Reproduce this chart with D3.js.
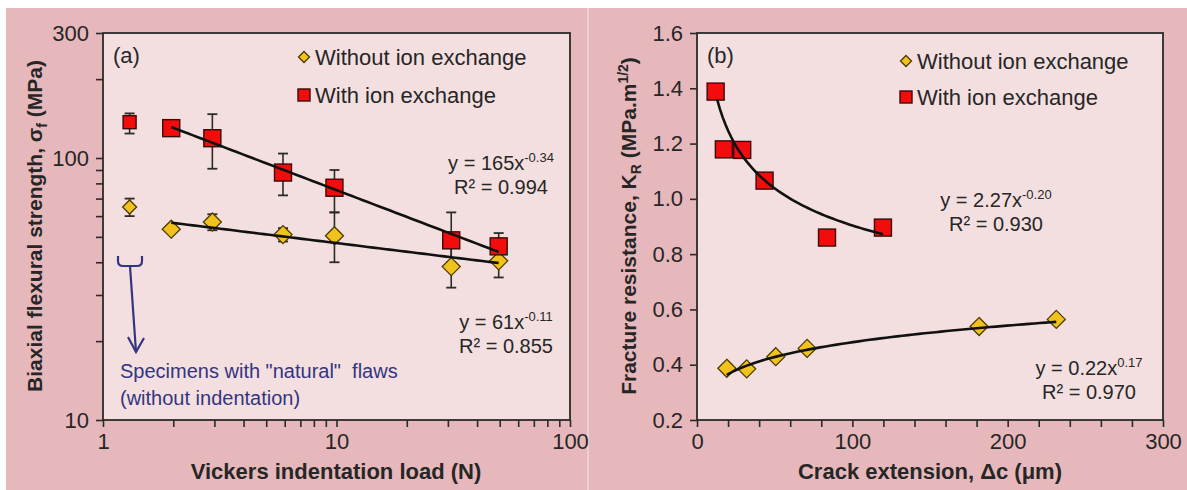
<!DOCTYPE html>
<html><head><meta charset="utf-8">
<script src="https://cdn.jsdelivr.net/npm/d3@7"></script>
<style>
body{margin:0;background:#fff;}
svg{display:block;}
text{font-family:"Liberation Sans",Arial,sans-serif;fill:#262626;}
</style>
</head><body>
<svg id="c" width="1187" height="490"></svg>
<script>
// ---------- data: panel (a) ----------
const loadsN = [1.96, 2.94, 5.9, 9.8, 31, 49.5];
const naturalLoad = 1.3;
const withoutStrength = [53.5, 57, 51, 50.5, 38.5, 40.5];
const withoutLo = [53.5, 53, 48, 40, 32, 35];
const withoutHi = [53.5, 61, 54, 62, 46, 46];
const withoutNatural = [65, 60, 70];      // value, low, high
const withStrength = [130, 119, 88, 77, 48.5, 46];
const withLo = [130, 91, 72, 62, 40, 42];
const withHi = [130, 147, 104, 90, 62, 51.7];
const withNatural = [137, 124, 148];      // value, low, high
const fitStrengthWith = [165, -0.34];
const fitStrengthWithout = [61, -0.11];
const aYTicks = [10,20,30,40,50,60,70,80,90,100,200,300];
const aYLabels = [10,100,300];
const aXTicks = [1,2,3,4,5,6,7,8,9,10,20,30,40,50,60,70,80,90,100];
const aXLabels = [1,10,100];

// ---------- data: panel (b) ----------
const crackWith = [12, 17.3, 29.1, 43.5, 83.7, 119.7];
const krWith = [1.388, 1.179, 1.177, 1.066, 0.860, 0.896];
const crackWithout = [19.2, 32.0, 50.7, 70.9, 181.6, 231.3];
const krWithout = [0.387, 0.385, 0.429, 0.459, 0.538, 0.564];
const fitKrWith = [2.27, -0.20];
const fitKrWithout = [0.22, 0.17];
const bXTicks = [0,20,40,60,80,100,120,140,160,180,200,220,240,260,280,300];
const bXLabels = [0,100,200,300];
const bYTicks = [0.2,0.4,0.6,0.8,1.0,1.2,1.4,1.6];

const legendLabels = ["Without ion exchange", "With ion exchange"];

// ---------- styles ----------
const OUTER = "#e7b8bb", INNER = "#f3dfdf", RED = "#f20c0c", REDSTROKE = "#3c0a0a",
      GOLD = "#f2c21c", GOLDSTROKE = "#4a3c00", NAVY = "#33357f";

const svg = d3.select("#c");
svg.append("rect").attr("x",6).attr("y",8).attr("width",581).attr("height",482).attr("fill",OUTER);
svg.append("rect").attr("x",589).attr("y",8).attr("width",598).attr("height",482).attr("fill",OUTER);
svg.append("rect").attr("x",587).attr("y",8).attr("width",2).attr("height",482).attr("fill","#efcfd1");

const diamond = (s) => `M0,${-s} L${s},0 L0,${s} L${-s},0Z`;

function panel(opt){
  const g = svg.append("g");
  const x = opt.x, y = opt.y;
  const [x0,x1] = x.range(), [y0,y1] = y.range();
  g.append("rect").attr("x",x0).attr("y",y1).attr("width",x1-x0).attr("height",y0-y1).attr("fill",INNER);

  const ax = g.append("g").attr("transform",`translate(0,${y0})`)
    .call(d3.axisBottom(x).tickValues(opt.xTicks).tickSize(7).tickPadding(6)
      .tickFormat(d => opt.xLabels.includes(d) ? opt.xFmt(d) : ""));
  const ay = g.append("g").attr("transform",`translate(${x0},0)`)
    .call(d3.axisLeft(y).tickValues(opt.yTicks).tickSize(7).tickPadding(7)
      .tickFormat(d => opt.yLabels.includes(d) ? opt.yFmt(d) : ""));
  [ax,ay].forEach(a=>{
    a.select(".domain").remove();
    a.selectAll("line").attr("stroke","#2a2a2a").attr("stroke-width",1.6);
    a.selectAll("text").attr("font-size",22).attr("fill","#2e2e2e")
      .style("font-family",'"Liberation Sans",Arial,sans-serif');
  });
  g.append("rect").attr("x",x0).attr("y",y1).attr("width",x1-x0).attr("height",y0-y1)
    .attr("fill","none").attr("stroke","#2a2a2a").attr("stroke-width",1.8);
  return g;
}

function errBars(g, x, y, xs, lo, hi){
  xs.forEach((xv,i)=>{
    if (lo[i] === hi[i]) return;
    const px = x(xv);
    g.append("line").attr("x1",px).attr("x2",px).attr("y1",y(lo[i])).attr("y2",y(hi[i]))
      .attr("stroke","#2b2b2b").attr("stroke-width",1.6);
    [lo[i],hi[i]].forEach(v=>g.append("line").attr("x1",px-5).attr("x2",px+5)
      .attr("y1",y(v)).attr("y2",y(v)).attr("stroke","#2b2b2b").attr("stroke-width",1.8));
  });
}
function squares(g, x, y, xs, ys, s){
  g.selectAll(null).data(xs).enter().append("rect")
    .attr("x",(d)=>x(d)-s/2).attr("y",(d,i)=>y(ys[i])-s/2).attr("width",s).attr("height",s)
    .attr("fill",RED).attr("stroke",REDSTROKE).attr("stroke-width",1.4);
}
function diamonds(g, x, y, xs, ys, s){
  g.selectAll(null).data(xs).enter().append("path")
    .attr("d",diamond(s)).attr("transform",(d,i)=>`translate(${x(d)},${y(ys[i])})`)
    .attr("fill",GOLD).attr("stroke",GOLDSTROKE).attr("stroke-width",1.3);
}
function fitLine(g, x, y, coef, xmin, xmax, logx){
  const n = 60, pts = [];
  for (let k=0;k<=n;k++){
    const xv = logx ? xmin*Math.pow(xmax/xmin,k/n) : xmin+(xmax-xmin)*k/n;
    pts.push([xv, coef[0]*Math.pow(xv,coef[1])]);
  }
  g.append("path").attr("d",d3.line().x(d=>x(d[0])).y(d=>y(d[1]))(pts))
    .attr("fill","none").attr("stroke","#111").attr("stroke-width",2.6);
}
function eqText(g, cx, by, coefText, expText, r2Text){
  const t = g.append("text").attr("x",cx).attr("y",by).attr("text-anchor","middle").attr("font-size",20);
  t.append("tspan").text("y = "+coefText+"x");
  t.append("tspan").attr("dy",-8).attr("font-size",13).text(expText);
  g.append("text").attr("x",cx).attr("y",by+24).attr("text-anchor","middle").attr("font-size",20)
    .text("R² = "+r2Text);
}
function legend(g, tx, by1, by2){
  g.append("path").attr("d",diamond(5.5)).attr("transform",`translate(${tx-11},${by1-8})`)
    .attr("fill",GOLD).attr("stroke",GOLDSTROKE).attr("stroke-width",1.3);
  g.append("text").attr("x",tx).attr("y",by1).attr("font-size",22).text(legendLabels[0]);
  g.append("rect").attr("x",tx-17).attr("y",by2-14).attr("width",12).attr("height",12)
    .attr("fill",RED).attr("stroke",REDSTROKE).attr("stroke-width",1.4);
  g.append("text").attr("x",tx).attr("y",by2).attr("font-size",22).text(legendLabels[1]);
}

// ---------- panel (a) ----------
const xa = d3.scaleLog().domain([1,100]).range([103,570]);
const ya = d3.scaleLog().domain([10,300]).range([420,33]);
const ga = panel({x:xa,y:ya,xTicks:aXTicks,xLabels:aXLabels,yTicks:aYTicks,yLabels:aYLabels,
  xFmt:d3.format("d"), yFmt:d3.format("d")});

errBars(ga, xa, ya, loadsN, withoutLo, withoutHi);
errBars(ga, xa, ya, loadsN, withLo, withHi);
errBars(ga, xa, ya, [naturalLoad], [withoutNatural[1]], [withoutNatural[2]]);
errBars(ga, xa, ya, [naturalLoad], [withNatural[1]], [withNatural[2]]);
diamonds(ga, xa, ya, loadsN, withoutStrength, 9);
diamonds(ga, xa, ya, [naturalLoad], [withoutNatural[0]], 7);
squares(ga, xa, ya, loadsN, withStrength, 17);
squares(ga, xa, ya, [naturalLoad], [withNatural[0]], 13);
fitLine(ga, xa, ya, fitStrengthWith, loadsN[0], loadsN[loadsN.length-1], true);
fitLine(ga, xa, ya, fitStrengthWithout, loadsN[0], loadsN[loadsN.length-1], true);

ga.append("text").attr("x",113).attr("y",63).attr("font-size",22).text("(a)");
legend(ga, 315, 65, 103);
eqText(ga, 501, 170, "165", "-0.34", "0.994");
eqText(ga, 506, 329, "61", "-0.11", "0.855");

// natural-flaw annotation
ga.append("path").attr("d","M118,256 L118,261 Q118,266 123,266 L137,266 Q142,266 142,261 L142,256")
  .attr("fill","none").attr("stroke",NAVY).attr("stroke-width",2.2);
ga.append("path").attr("d","M130,266 L136,352").attr("stroke",NAVY).attr("stroke-width",2.2);
ga.append("path").attr("d","M128,337 L136,352 L144,338").attr("fill","none").attr("stroke",NAVY).attr("stroke-width",2.2);
ga.append("text").attr("x",120).attr("y",378).attr("font-size",20).style("fill",NAVY)
  .attr("xml:space","preserve").text('Specimens with "natural"  flaws');
ga.append("text").attr("x",120).attr("y",405).attr("font-size",20).style("fill",NAVY)
  .text("(without indentation)");

// axis titles (a)
ga.append("text").attr("x",336).attr("y",479).attr("text-anchor","middle")
  .attr("font-size",22).attr("font-weight","bold").text("Vickers indentation load (N)");
const tya = ga.append("text").attr("transform","translate(42,226) rotate(-90)").attr("text-anchor","middle")
  .attr("font-size",21).attr("font-weight","bold");
tya.append("tspan").text("Biaxial flexural strength, σ");
tya.append("tspan").attr("dy",5).attr("font-size",14).text("f");
tya.append("tspan").attr("dy",-5).text(" (MPa)");

// ---------- panel (b) ----------
const xb = d3.scaleLinear().domain([0,300]).range([697,1163]);
const yb = d3.scaleLinear().domain([0.2,1.6]).range([420,33]);
const gb = panel({x:xb,y:yb,xTicks:bXTicks,xLabels:bXLabels,yTicks:bYTicks,yLabels:bYTicks,
  xFmt:d3.format("d"), yFmt:d3.format(".1f")});

diamonds(gb, xb, yb, crackWithout, krWithout, 9);
squares(gb, xb, yb, crackWith, krWith, 17);
fitLine(gb, xb, yb, fitKrWith, 13, crackWith[crackWith.length-1], false);
fitLine(gb, xb, yb, fitKrWithout, crackWithout[0], crackWithout[crackWithout.length-1], false);

gb.append("text").attr("x",707).attr("y",63).attr("font-size",22).text("(b)");
legend(gb, 917, 69, 105);
eqText(gb, 996, 207, "2.27", "-0.20", "0.930");
eqText(gb, 1089, 375, "0.22", "0.17", "0.970");

gb.append("text").attr("x",930).attr("y",479).attr("text-anchor","middle")
  .attr("font-size",22).attr("font-weight","bold").text("Crack extension, Δc (μm)");
const tyb = gb.append("text").attr("transform","translate(636,226) rotate(-90)").attr("text-anchor","middle")
  .attr("font-size",21).attr("font-weight","bold");
tyb.append("tspan").text("Fracture resistance, K");
tyb.append("tspan").attr("dy",5).attr("font-size",14).text("R");
tyb.append("tspan").attr("dy",-5).text(" (MPa.m");
tyb.append("tspan").attr("dy",-8).attr("font-size",14).text("1/2");
tyb.append("tspan").attr("dy",8).text(")");
</script>
</body></html>
